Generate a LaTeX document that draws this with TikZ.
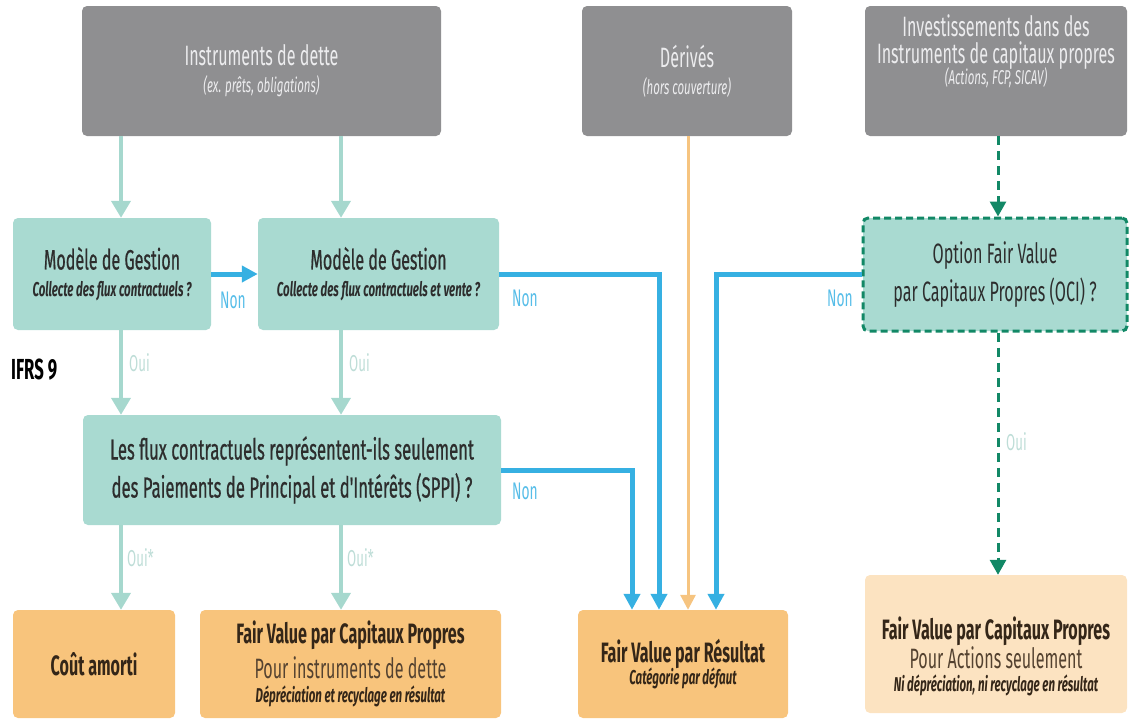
\documentclass[tikz,border=0pt]{standalone}
\usepackage{fontspec}
\setmainfont{Fira Sans}[FakeStretch=0.575]
\newfontfamily\medfont{Fira Sans}[FakeStretch=0.575,FakeBold=0.6]
\usepackage{xcolor}
\usepackage{tikz}
\usetikzlibrary{arrows.meta, positioning, calc}
\definecolor{boxgrey}{RGB}{143,143,145}
\definecolor{greytext}{RGB}{236,236,238}
\definecolor{tealfill}{RGB}{169,218,209}
\definecolor{tealline}{RGB}{166,216,206}
\definecolor{ouigrey}{RGB}{190,221,215}
\definecolor{flowblue}{RGB}{54,176,226}
\definecolor{nonblue}{RGB}{86,189,232}
\definecolor{orangefill}{RGB}{248,196,124}
\definecolor{paleorange}{RGB}{252,227,193}
\definecolor{orangeline}{RGB}{246,196,128}
\definecolor{ocigreen}{RGB}{18,136,102}
\definecolor{darktext}{RGB}{45,45,45}
\definecolor{browntext}{RGB}{52,38,24}
\definecolor{softbrown}{RGB}{84,66,48}
\newcommand{\fsz}[2]{\fontsize{#1}{#2}\selectfont}
\newcommand{\subfont}{\fsz{20}{22}\itshape}

\begin{document}
\begin{tikzpicture}[x=1pt, y=-1pt,
  greybox/.style={rectangle, fill=boxgrey, rounded corners=5pt, text=greytext,
                  align=center, inner sep=0pt, font=\fsz{28}{27}},
  tealbox/.style={rectangle, fill=tealfill, rounded corners=5pt, text=darktext,
                  align=center, inner sep=0pt, font=\fsz{28}{27}},
  resbox/.style={rectangle, fill=orangefill, rounded corners=5pt, text=browntext,
                 align=center, inner sep=0pt, font=\fsz{28}{27}},
  ocibox/.style={tealbox, draw=ocigreen, line width=3pt, dash pattern=on 7pt off 4pt},
  yesarr/.style={-{Triangle[length=17pt, width=19pt]}, line width=4pt, tealline},
  noarr/.style={-{Triangle[length=16pt, width=16pt]}, line width=5pt, flowblue},
  derarr/.style={-{Triangle[length=15pt, width=15pt]}, line width=3pt, orangeline},
  ociarr/.style={-{Triangle[length=15pt, width=16pt]}, line width=3pt, ocigreen,
                 dash pattern=on 9pt off 6pt},
  ouilbl/.style={font=\fsz{23}{24}, text=ouigrey, anchor=west, inner sep=0pt},
  nonlbl/.style={font=\fsz{24}{24}, text=nonblue, inner sep=0pt},
]
  \useasboundingbox (0,0) rectangle (1129,720);

  % columns of the connectors
  \coordinate (c1) at (121,0);
  \coordinate (c2) at (341,0);
  \coordinate (c3) at (632,0);
  \coordinate (c4) at (659,0);
  \coordinate (c5) at (688,0);
  \coordinate (c6) at (716,0);
  \coordinate (c7) at (998,0);

  % top row
  \node[greybox, minimum width=359pt, minimum height=130pt] (dette) at (261.5,71)
    {Instruments de dette\\{\subfont (ex. prêts, obligations)}};
  \node[greybox, minimum width=210pt, minimum height=130pt] (deriv) at (687,71)
    {Dérivés\\{\subfont (hors couverture)}};
  \node[greybox, minimum width=262pt, minimum height=130pt] (actions) at (996,71) {};
  \node[text=greytext, align=center, font=\fsz{28}{27}] (actionsT) at (996,51)
    {Investissements dans des\\Instruments de capitaux propres\\[-6pt]{\subfont (Actions, FCP, SICAV)}};

  % questions
  \node[tealbox, minimum width=198pt, minimum height=112pt] (m1) at (112,274)
    {\medfont Modèle de Gestion\\{\fsz{20}{22}\bfseries\itshape Collecte des flux contractuels ?}};
  \node[tealbox, minimum width=241pt, minimum height=112pt] (m2) at (378.5,274)
    {\medfont Modèle de Gestion\\{\fsz{20}{22}\bfseries\itshape Collecte des flux contractuels et vente ?}};
  \node[ocibox, minimum width=264pt, minimum height=113pt, font=\fsz{28}{38}] (oci) at (995,274.5)
    {Option Fair Value\\par Capitaux Propres (OCI) ?};
  \node[tealbox, minimum width=418pt, minimum height=110pt, font=\fsz{29}{38}] (sppi) at (292,470)
    {\medfont Les flux contractuels représentent-ils seulement\\\medfont des Paiements de Principal et d'Intérêts (SPPI) ?};

  \node[font=\fsz{29}{29}\bfseries, text=black, anchor=west, inner sep=0pt] (ifrs) at (11,370) {IFRS 9};

  % results
  \node[resbox, minimum width=162pt, minimum height=108pt] (cout) at (94,664)
    {\bfseries Coût amorti};
  \node[resbox, minimum width=301pt, minimum height=108pt] (fvcp) at (350.5,664)
    {\bfseries Fair Value par Capitaux Propres\\[6pt]{\color{softbrown}Pour instruments de dette}\\[-3pt]{\subfont\bfseries Dépréciation et recyclage en résultat}};
  \node[resbox, minimum width=210pt, minimum height=108pt] (fvr) at (683,664)
    {\bfseries Fair Value par Résultat\\[-5pt]{\subfont\bfseries Catégorie par défaut}};
  \node[resbox, fill=paleorange, minimum width=262pt, minimum height=138pt] (fvact) at (996,644) {};
  \node[text=browntext, align=center, font=\fsz{28}{27}] (fvactT) at (996,656)
    {\bfseries Fair Value par Capitaux Propres\\{\color{softbrown}Pour Actions seulement}\\[-4pt]{\subfont\bfseries Ni dépréciation, ni recyclage en résultat}};

  % debt path
  \draw[yesarr] (dette.south -| c1) -- (m1.north -| c1);
  \draw[yesarr] (dette.south -| c2) -- (m2.north -| c2);
  \draw[yesarr] (m1.south -| c1) -- (sppi.north -| c1);
  \draw[yesarr] (m2.south -| c2) -- (sppi.north -| c2);
  \draw[yesarr] (sppi.south -| c1) -- (cout.north -| c1);
  \draw[yesarr] (sppi.south -| c2) -- (fvcp.north -| c2);
  \node[ouilbl] (oui1) at (129,363) {Oui};
  \node[ouilbl] (oui2) at (349,363) {Oui};
  \node[ouilbl] (oui3) at (127,558) {Oui*};
  \node[ouilbl] (oui4) at (347,558) {Oui*};

  % Non -> Fair Value par Resultat
  \draw[noarr] (m1.east) -- (m2.west);
  \draw[noarr] (m2.east) -| (fvr.north -| c4);
  \draw[noarr] (sppi.east) -| (fvr.north -| c3);
  \draw[noarr] (oci.west) -| (fvr.north -| c6);
  \draw[derarr] (deriv.south -| c5) -- (fvr.north -| c5);
  \node[nonlbl] (non1) at (233,300) {Non};
  \node[nonlbl] (non2) at (525,298) {Non};
  \node[nonlbl] (non3) at (525,491) {Non};
  \node[nonlbl] (non4) at (840,298) {Non};

  % equity path
  \draw[ociarr] (actions.south -| c7) -- (oci.north -| c7);
  \draw[ociarr] (oci.south -| c7) -- (fvact.north -| c7);
  \node[ouilbl] (oui5) at (1006,442) {Oui};
\end{tikzpicture}
\end{document}
